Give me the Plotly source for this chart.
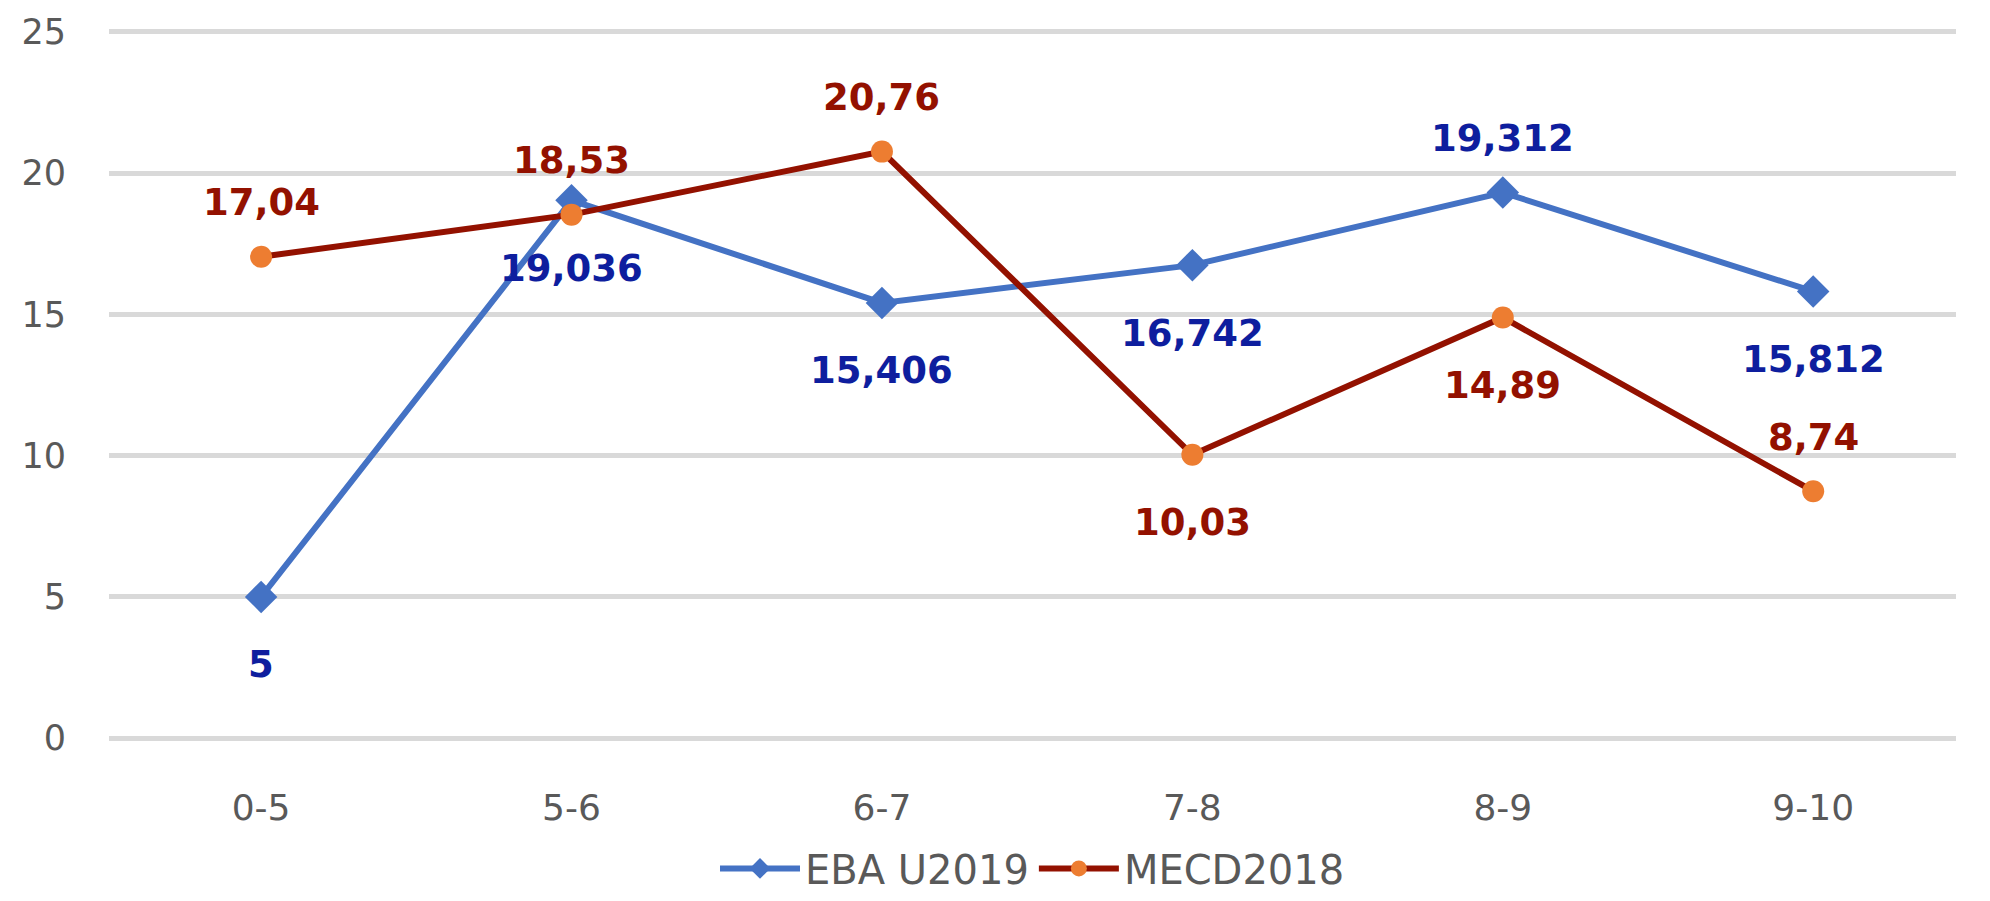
import plotly.graph_objects as go

categories = ["0-5", "5-6", "6-7", "7-8", "8-9", "9-10"]
eba_values = [5, 19.036, 15.406, 16.742, 19.312, 15.812]
mecd_values = [17.04, 18.53, 20.76, 10.03, 14.89, 8.74]
# label placement per point: True = above, False = below
eba_above = [False, False, False, False, True, False]
mecd_above = [True, True, True, False, False, True]

BLUE = "#4472C4"
BLUE_TXT = "#0E1E9E"
RED = "#931100"
ORANGE = "#ED7D31"
FONT = "DejaVu Sans"


def fmt(v):
    return f"{v:g}".replace(".", ",")


fig = go.Figure()
fig.add_trace(go.Scatter(
    x=categories, y=eba_values, name="EBA U2019", mode="lines+markers",
    line=dict(color=BLUE, width=6),
    marker=dict(symbol="diamond", size=25, color=BLUE),
))
fig.add_trace(go.Scatter(
    x=categories, y=mecd_values, name="MECD2018", mode="lines+markers",
    line=dict(color=RED, width=6),
    marker=dict(symbol="circle", size=22, color=ORANGE),
))

annotations = []
for vals, above, color in [(eba_values, eba_above, BLUE_TXT),
                           (mecd_values, mecd_above, RED)]:
    for cat, v, up in zip(categories, vals, above):
        annotations.append(dict(
            x=cat, y=v, text=fmt(v), showarrow=False,
            yshift=54 if up else -68,
            font=dict(family=FONT, size=37, color=color, weight="bold"),
        ))

fig.update_layout(
    width=1990, height=901,
    margin=dict(l=101, r=42, t=21, b=168),
    paper_bgcolor="white", plot_bgcolor="white",
    font=dict(family=FONT, color="#595959"),
    annotations=annotations,
    showlegend=True,
    legend=dict(
        orientation="h", x=0.5, xanchor="center",
        yref="container", y=0.045, yanchor="middle",
        font=dict(family=FONT, size=40, color="#595959"),
        itemwidth=80,
    ),
    xaxis=dict(
        range=[-0.49, 5.46],
        showgrid=False, zeroline=False, showline=False, automargin=False,
        tickfont=dict(size=36, color="#595959"),
        ticklabelstandoff=42,
    ),
    yaxis=dict(
        range=[-0.1, 25.1], dtick=5, showgrid=True, gridcolor="#D9D9D9",
        gridwidth=5, zeroline=False, showline=False, automargin=False,
        tickfont=dict(size=35, color="#595959"),
        ticklabelstandoff=42, ticklabeloverflow="allow",
    ),
)

fig.write_html("out.html")
